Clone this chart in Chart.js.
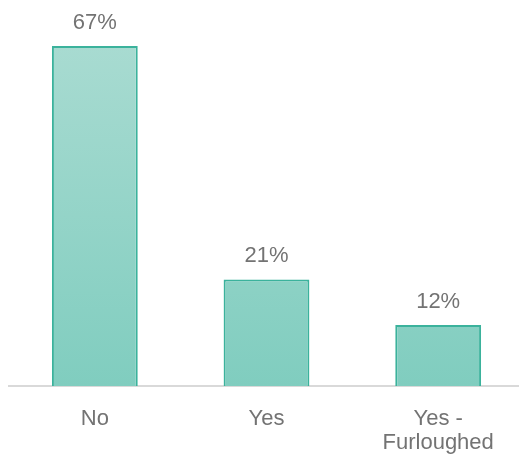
<!DOCTYPE html>
<html>
<head>
<meta charset="utf-8">
<script src="https://cdn.jsdelivr.net/npm/chart.js@4.4.1/dist/chart.umd.min.js"></script>
<style>
  html, body { margin: 0; padding: 0; background: #fff; overflow: hidden; }
  .chart-box { width: 524px; height: 455px; }
</style>
</head>
<body>
<div class="chart-box"><canvas id="myChart"></canvas></div>
<script>
// 응답 분류와 비율(%)
const categories = [["No"], ["Yes"], ["Yes -", "Furloughed"]];
const values = [67, 21, 12];
const valueLabels = ["67%", "21%", "12%"];

const textColor = "#737373";
const fontFamily = "'Liberation Sans', Arial, sans-serif";

// 막대 위에 퍼센트 표시
const valueLabelPlugin = {
    id: "valueLabels",
    afterDatasetsDraw(chart) {
        const ctx = chart.ctx;
        const meta = chart.getDatasetMeta(0);
        ctx.save();
        ctx.font = "22px " + fontFamily;
        ctx.fillStyle = textColor;
        ctx.textAlign = "center";
        ctx.textBaseline = "alphabetic";
        meta.data.forEach((bar, i) => {
            ctx.fillText(valueLabels[i], bar.x, bar.y - 17);
        });
        ctx.restore();
    }
};

const ctx = document.getElementById("myChart").getContext("2d");

new Chart(ctx, {
    type: "bar",
    data: {
        labels: categories,
        datasets: [{
            data: values,
            backgroundColor: function (context) {
                const area = context.chart.chartArea;
                if (!area) return "#93d5c8";
                // 위는 연하고 아래는 진한 청록색
                const g = context.chart.ctx.createLinearGradient(0, area.top, 0, area.bottom);
                g.addColorStop(0, "#a8dbd1");
                g.addColorStop(1, "#80cdbf");
                return g;
            },
            borderColor: "#3bb29c",
            borderWidth: 2,
            borderSkipped: "bottom",
            categoryPercentage: 1,
            barPercentage: 0.5
        }]
    },
    options: {
        responsive: true,
        maintainAspectRatio: false,
        animation: false,
        layout: { padding: { top: 46, left: 9, right: 0, bottom: 0 } },
        scales: {
            x: {
                grid: { display: false },
                border: { color: "#d9d9d9", width: 2 },
                ticks: {
                    color: textColor,
                    font: { size: 22, family: fontFamily, lineHeight: 1.09 },
                    padding: 13,
                    maxRotation: 0
                },
                afterFit(scale) {
                    scale.height = 69; // 아래 라벨 영역 높이 고정
                }
            },
            y: {
                display: false,
                min: 0,
                max: Math.max(...values)
            }
        },
        plugins: {
            legend: { display: false },
            tooltip: { enabled: false }
        }
    },
    plugins: [valueLabelPlugin]
});
</script>
</body>
</html>
